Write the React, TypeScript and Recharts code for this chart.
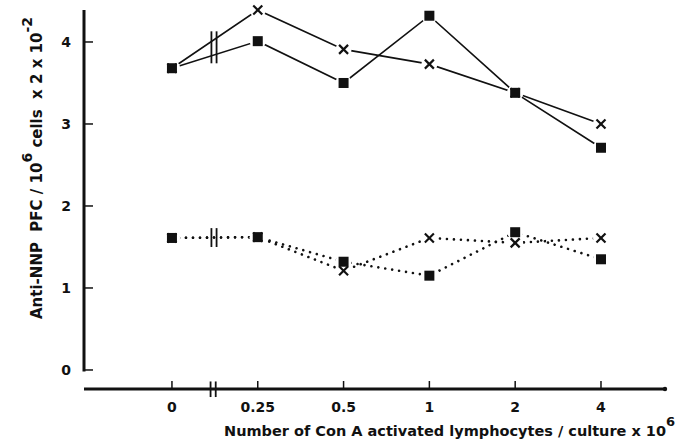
import { ComposedChart, Line, XAxis, YAxis, ReferenceLine, ReferenceDot } from "recharts";

const doses = ["0", "0.25", "0.5", "1", "2", "4"];
const upperSquares = [3.68, 4.01, 3.5, 4.32, 3.38, 2.71];
const upperCrosses = [3.68, 4.39, 3.91, 3.73, 3.38, 3.0];
const lowerSquares = [1.61, 1.62, 1.32, 1.15, 1.68, 1.35];
const lowerCrosses = [1.61, 1.62, 1.21, 1.61, 1.55, 1.61];
const yTicks = [0, 1, 2, 3, 4];

const data = doses.map((d, i) => ({
  pos: i,
  dose: d,
  upSq: upperSquares[i],
  upX: upperCrosses[i],
  loSq: lowerSquares[i],
  loX: lowerCrosses[i],
}));

const INK = "#111";
const FONT = "DejaVu Sans";
const X_MIN = -1.025;
const X_MAX = 5.746;
const Y_MIN = -0.232;
const Y_MAX = 4.39;

function Marker(props: any) {
  const { cx, cy, kind, index } = props;
  if (cx == null || cy == null) return <g key={index} />;
  if (kind === "halo") return <circle key={index} cx={cx} cy={cy} r={8} fill="#fff" />;
  if (kind === "square")
    return <rect key={index} x={cx - 5} y={cy - 5} width={10} height={10} fill={INK} />;
  return (
    <g key={index} stroke={INK} strokeWidth={2.2}>
      <line x1={cx - 4.5} y1={cy - 4.5} x2={cx + 4.5} y2={cy + 4.5} />
      <line x1={cx - 4.5} y1={cy + 4.5} x2={cx + 4.5} y2={cy - 4.5} />
    </g>
  );
}

function XTick(props: any) {
  const { x, y, payload } = props;
  return (
    <g>
      <line x1={x} x2={x} y1={y} y2={y - 8} stroke={INK} strokeWidth={1.5} />
      <text x={x} y={y + 23} textAnchor="middle" fontSize={14} fontWeight="bold" fontFamily={FONT} fill={INK}>
        {doses[payload.value]}
      </text>
    </g>
  );
}

function YTick(props: any) {
  const { x, y, payload } = props;
  return (
    <g>
      <line x1={x} x2={x + 9} y1={y} y2={y} stroke={INK} strokeWidth={1.5} />
      <text x={x - 13} y={y + 5} textAnchor="end" fontSize={14} fontWeight="bold" fontFamily={FONT} fill={INK}>
        {payload.value}
      </text>
    </g>
  );
}

function XTitle() {
  return (
    <text x={224} y={436} fontSize={14.5} fontWeight="bold" fontFamily={FONT} fill={INK}>
      Number of Con A activated lymphocytes / culture x 10
      <tspan dy={-10} fontSize={13}>6</tspan>
    </text>
  );
}

function YTitle() {
  return (
    <text
      x={42}
      y={168}
      transform="rotate(-90 42 168)"
      textAnchor="middle"
      fontSize={15}
      fontWeight="bold"
      fontFamily={FONT}
      fill={INK}
      style={{ whiteSpace: "pre" }}
    >
      {"Anti-NNP  PFC / 10"}
      <tspan dy={-10} fontSize={14}>6</tspan>
      <tspan dy={10}>{" cells  x 2 x 10"}</tspan>
      <tspan dy={-10} fontSize={14}>-2</tspan>
    </text>
  );
}

const markerLine = (key: string, kind: string) => (
  <Line
    key={key + kind}
    dataKey={key}
    stroke="none"
    isAnimationActive={false}
    activeDot={false}
    dot={(p: any) => <Marker {...p} key={p.index} kind={kind} />}
  />
);

export default function App() {
  return (
    <div style={{ position: "absolute", left: 0, top: 0, width: 681, height: 440, background: "#fff" }}>
      <ComposedChart
        width={681}
        height={440}
        data={data}
        margin={{ top: 10, right: 16, bottom: 11, left: 24 }}
      >
        <XAxis
          type="number"
          dataKey="pos"
          domain={[X_MIN, X_MAX]}
          ticks={[0, 1, 2, 3, 4, 5]}
          height={40}
          axisLine={{ stroke: INK, strokeWidth: 3 }}
          tickLine={false}
          tickSize={0}
          tickMargin={0}
          tick={<XTick />}
          label={<XTitle />}
        />
        <YAxis
          type="number"
          domain={[Y_MIN, Y_MAX]}
          ticks={yTicks}
          width={60}
          axisLine={false}
          tickLine={false}
          tickSize={0}
          tickMargin={0}
          tick={<YTick />}
          label={<YTitle />}
        />
        <ReferenceLine
          segment={[{ x: X_MIN, y: -0.02 }, { x: X_MIN, y: Y_MAX }]}
          stroke={INK}
          strokeWidth={3}
          ifOverflow="visible"
        />
        <ReferenceDot x={X_MAX} y={Y_MIN} r={2.2} fill={INK} stroke="none" ifOverflow="visible" />

        <Line dataKey="upSq" stroke={INK} strokeWidth={1.6} dot={false} activeDot={false} isAnimationActive={false} />
        <Line dataKey="upX" stroke={INK} strokeWidth={1.6} dot={false} activeDot={false} isAnimationActive={false} />
        <Line
          dataKey="loSq"
          stroke={INK}
          strokeWidth={2.6}
          strokeDasharray="0.01 7"
          strokeLinecap="round"
          dot={false}
          activeDot={false}
          isAnimationActive={false}
        />
        <Line
          dataKey="loX"
          stroke={INK}
          strokeWidth={2.6}
          strokeDasharray="0.01 7"
          strokeLinecap="round"
          dot={false}
          activeDot={false}
          isAnimationActive={false}
        />

        {/* axis breaks */}
        <ReferenceLine segment={[{ x: 0.46, y: 4.13 }, { x: 0.46, y: 3.74 }]} stroke={INK} strokeWidth={1.8} ifOverflow="visible" />
        <ReferenceLine segment={[{ x: 0.52, y: 4.13 }, { x: 0.52, y: 3.74 }]} stroke={INK} strokeWidth={1.8} ifOverflow="visible" />
        <ReferenceLine segment={[{ x: 0.46, y: 1.73 }, { x: 0.46, y: 1.5 }]} stroke={INK} strokeWidth={1.8} ifOverflow="visible" />
        <ReferenceLine segment={[{ x: 0.52, y: 1.73 }, { x: 0.52, y: 1.5 }]} stroke={INK} strokeWidth={1.8} ifOverflow="visible" />
        <ReferenceLine segment={[{ x: 0.45, y: -0.14 }, { x: 0.45, y: -0.33 }]} stroke={INK} strokeWidth={1.8} ifOverflow="visible" />
        <ReferenceLine segment={[{ x: 0.51, y: -0.14 }, { x: 0.51, y: -0.33 }]} stroke={INK} strokeWidth={1.8} ifOverflow="visible" />

        {markerLine("upX", "halo")}
        {markerLine("upSq", "halo")}
        {markerLine("loX", "halo")}
        {markerLine("loSq", "halo")}
        {markerLine("upX", "cross")}
        {markerLine("loX", "cross")}
        {markerLine("upSq", "square")}
        {markerLine("loSq", "square")}
      </ComposedChart>
    </div>
  );
}
